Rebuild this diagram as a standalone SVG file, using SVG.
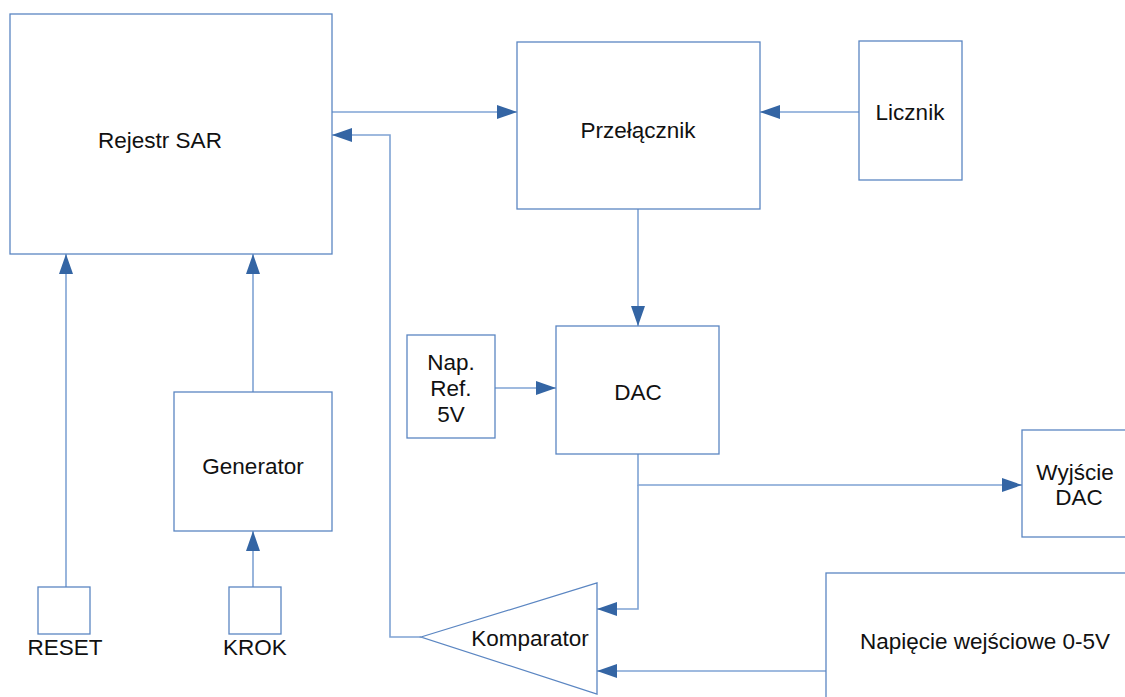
<svg xmlns="http://www.w3.org/2000/svg" width="1125" height="697" viewBox="0 0 1125 697">
<style>
.box{fill:#fff;stroke:#5b86c2;stroke-width:1.3}
.ln{fill:none;stroke:#7fa3d4;stroke-width:1.6}
text{font-family:"Liberation Sans",Arial,sans-serif;font-size:22.5px;fill:#111;text-anchor:middle}
</style>
<defs>
<marker id="ah" markerUnits="userSpaceOnUse" markerWidth="22" markerHeight="16" refX="20" refY="7" orient="auto">
<path d="M0,0 L20,7 L0,14 z" fill="#3465a4"/>
</marker>
</defs>
<rect width="1125" height="697" fill="#fff"/>
<g id="connectors">
<path class="ln" d="M332,112 H517" marker-end="url(#ah)"/>
<path class="ln" d="M859,112 H760" marker-end="url(#ah)"/>
<path class="ln" d="M638,209 V326" marker-end="url(#ah)"/>
<path class="ln" d="M495,388 H556" marker-end="url(#ah)"/>
<path class="ln" d="M638,454 V485 H1022" marker-end="url(#ah)"/>
<path class="ln" d="M638,485 V609 H597" marker-end="url(#ah)"/>
<path class="ln" d="M826,671 H597" marker-end="url(#ah)"/>
<path class="ln" d="M421,637 H390 V135 H332" marker-end="url(#ah)"/>
<path class="ln" d="M253,392 V254" marker-end="url(#ah)"/>
<path class="ln" d="M66,587 V254" marker-end="url(#ah)"/>
<path class="ln" d="M253,587 V531" marker-end="url(#ah)"/>
</g>
<g id="rejestr"><rect class="box" x="10" y="14" width="322" height="240"/><text x="160" y="148">Rejestr SAR</text></g>
<g id="przelacznik"><rect class="box" x="517" y="42" width="243" height="167"/><text x="638" y="138">Przełącznik</text></g>
<g id="licznik"><rect class="box" x="859" y="41" width="103" height="139"/><text x="910" y="120">Licznik</text></g>
<g id="dac"><rect class="box" x="556" y="326" width="163" height="128"/><text x="638" y="400">DAC</text></g>
<g id="napref"><rect class="box" x="407" y="335" width="88" height="103"/><text x="451" y="370">Nap.</text><text x="451" y="396">Ref.</text><text x="451" y="422">5V</text></g>
<g id="generator"><rect class="box" x="174" y="392" width="158" height="139"/><text x="253" y="474">Generator</text></g>
<g id="reset"><rect class="box" x="38" y="587" width="52" height="47"/><text x="65" y="655">RESET</text></g>
<g id="krok"><rect class="box" x="229" y="587" width="52" height="47"/><text x="255" y="655">KROK</text></g>
<g id="wyjscie"><rect class="box" x="1022" y="430" width="120" height="107"/><text x="1075" y="480">Wyjście</text><text x="1079" y="505">DAC</text></g>
<g id="napiecie"><rect class="box" x="826" y="573" width="320" height="140"/><text x="985" y="649">Napięcie wejściowe 0-5V</text></g>
<g id="komparator"><path class="box" d="M421,637 L597,583 V694 Z"/><text x="530" y="646">Komparator</text></g>
</svg>
